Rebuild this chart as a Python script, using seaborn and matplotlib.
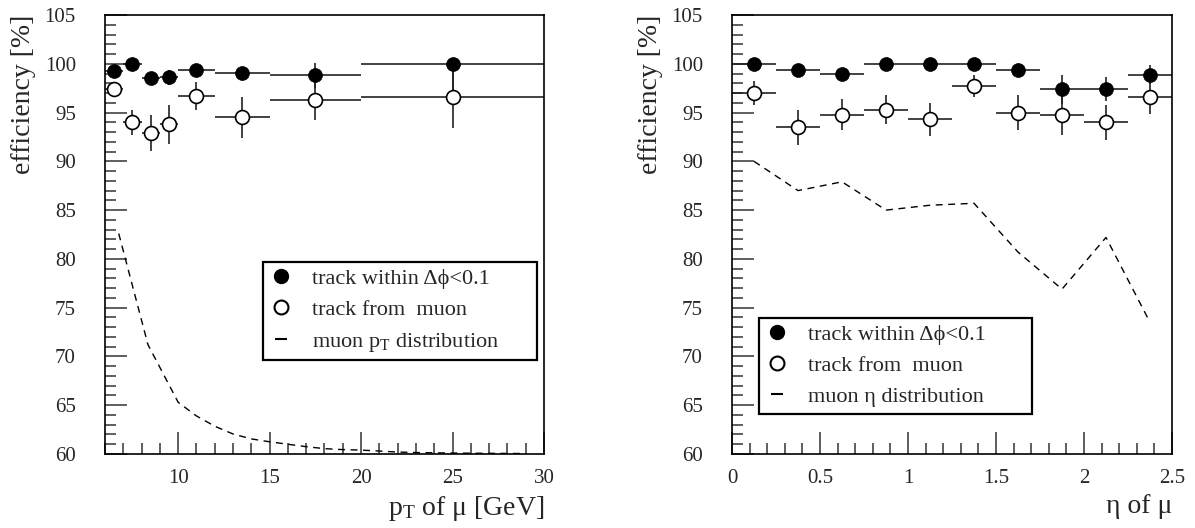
import numpy as np
import matplotlib
matplotlib.use("Agg")
import matplotlib.pyplot as plt
from matplotlib.lines import Line2D
from matplotlib.ticker import MultipleLocator, FixedLocator, FuncFormatter
import seaborn as sns

# ---- efficiency vs muon pT ----
pt_center = [6.5, 7.5, 8.5, 9.5, 11.0, 13.5, 17.5, 25.0]
pt_halfwidth = [0.5, 0.5, 0.5, 0.5, 1.0, 1.5, 2.5, 5.0]
pt_eff_dphi = [99.3, 100.0, 98.5, 98.6, 99.4, 99.1, 98.8, 100.0]
pt_eff_dphi_lo = [0.6, 0.5, 0.6, 0.8, 0.6, 0.6, 1.3, 2.7]
pt_eff_dphi_hi = [0.6, 0.0, 0.6, 0.8, 0.6, 0.6, 1.3, 0.0]
pt_eff_muon = [97.4, 94.0, 92.9, 93.8, 96.7, 94.5, 96.3, 96.6]
pt_eff_muon_err = [0.7, 1.3, 1.8, 2.0, 1.4, 2.1, 2.1, 3.2]

# muon pT distribution (arbitrary scale, drawn in the efficiency frame)
pt_dist_x = [6.75, 8.35, 10.0, 11.0, 12.0, 13.0, 14.0, 15.0, 16.0, 17.0, 18.0,
             19.0, 20.0, 21.0, 22.0, 23.0, 24.0, 25.0, 26.0, 27.0, 28.0, 28.7]
pt_dist_y = [82.6, 71.2, 65.3, 63.9, 62.85, 62.05, 61.55, 61.25, 61.0, 60.75, 60.55,
             60.45, 60.4, 60.3, 60.2, 60.15, 60.12, 60.1, 60.08, 60.07, 60.06, 60.05]

# ---- efficiency vs muon eta ----
eta_center = [0.125, 0.375, 0.625, 0.875, 1.125, 1.375, 1.625, 1.875, 2.125, 2.375]
eta_halfwidth = [0.125] * 10
eta_eff_dphi = [100.0, 99.4, 99.0, 100.0, 100.0, 100.0, 99.4, 97.4, 97.4, 98.9]
eta_eff_dphi_lo = [0.3, 0.4, 0.5, 0.3, 0.3, 0.3, 0.6, 1.5, 1.2, 1.0]
eta_eff_dphi_hi = [0.0, 0.4, 0.5, 0.0, 0.0, 0.0, 0.6, 1.5, 1.2, 1.0]
eta_eff_muon = [97.0, 93.5, 94.8, 95.3, 94.3, 97.7, 95.0, 94.7, 94.0, 96.6]
eta_eff_muon_err = [1.2, 1.8, 1.55, 1.5, 1.7, 1.1, 1.8, 2.0, 1.8, 1.7]

eta_dist_y = [90.0, 87.0, 87.9, 85.0, 85.5, 85.7, 80.7, 76.9, 82.2, 73.5]

legend_dphi = "track within \u0394\u03d5<0.1"
legend_muon = "track from  muon"
legend_pt_dist = r"muon $\mathregular{p_T}$ distribution"
legend_eta_dist = "muon \u03b7 distribution"
xlabel_pt = r"$\mathregular{p_T}$" + " of \u03bc [GeV]"
xlabel_eta = "\u03b7 of \u03bc"

sns.set_style("ticks")
plt.rcParams["font.family"] = ["Liberation Serif", "DejaVu Serif"]
plt.rcParams["mathtext.fontset"] = "custom"
plt.rcParams["mathtext.rm"] = "Liberation Serif"
plt.rcParams["mathtext.it"] = "Liberation Serif"

fig = plt.figure(figsize=(11.95, 5.28), dpi=100)
ax_pt = fig.add_axes([105 / 1195, 1 - 454 / 528, 439 / 1195, 439 / 528])
ax_eta = fig.add_axes([732 / 1195, 1 - 454 / 528, 440 / 1195, 439 / 528])

MS = 10


def draw_panel(ax, x, xw, eff1, e1lo, e1hi, eff2, e2, dx, dy):
    # distribution curve
    sns.lineplot(x=dx, y=dy, ax=ax, color="black", linewidth=1.0,
                 errorbar=None, zorder=1)
    ax.lines[-1].set_dashes([5, 4])
    # error bars
    ax.errorbar(x, eff1, xerr=xw, yerr=[e1lo, e1hi], fmt="none",
                ecolor="#222222", elinewidth=1.2, capsize=0, zorder=2)
    ax.errorbar(x, eff2, xerr=xw, yerr=e2, fmt="none",
                ecolor="#222222", elinewidth=1.2, capsize=0, zorder=2)
    # markers
    sns.scatterplot(x=x, y=eff1, ax=ax, marker="o", s=MS ** 2,
                    color="black", edgecolor="black", linewidth=0.5, zorder=3)
    sns.scatterplot(x=x, y=eff2, ax=ax, marker="o", s=MS ** 2,
                    facecolor="white", edgecolor="black", linewidth=1.2, zorder=4)

    ax.set_ylim(60, 105)
    ax.yaxis.set_major_locator(MultipleLocator(5))
    ax.yaxis.set_minor_locator(MultipleLocator(1))
    ax.tick_params(which="both", direction="in", top=False, right=False,
                   width=1.1, color="#333333", labelsize=15)
    ax.tick_params(axis="y", which="both", pad=21)
    ax.tick_params(axis="x", which="both", pad=11)
    ax.tick_params(which="major", length=16)
    ax.tick_params(which="minor", length=8)
    for sp in ax.spines.values():
        sp.set_linewidth(1.2)
        sp.set_color("black")
        sp.set_visible(True)
    ax.set_ylabel("efficiency [%]", fontsize=20, loc="top", labelpad=6)


draw_panel(ax_pt, pt_center, pt_halfwidth, pt_eff_dphi, pt_eff_dphi_lo,
           pt_eff_dphi_hi, pt_eff_muon, pt_eff_muon_err, pt_dist_x, pt_dist_y)
ax_pt.set_xlim(6, 30)
ax_pt.xaxis.set_major_locator(FixedLocator([10, 15, 20, 25, 30]))
ax_pt.xaxis.set_minor_locator(MultipleLocator(1))
ax_pt.set_xlabel(xlabel_pt, fontsize=20, loc="right", labelpad=4)

draw_panel(ax_eta, eta_center, eta_halfwidth, eta_eff_dphi, eta_eff_dphi_lo,
           eta_eff_dphi_hi, eta_eff_muon, eta_eff_muon_err, eta_center, eta_dist_y)
ax_eta.set_xlim(0, 2.5)
ax_eta.xaxis.set_major_locator(MultipleLocator(0.5))
ax_eta.xaxis.set_minor_locator(MultipleLocator(0.1))
ax_eta.xaxis.set_major_formatter(FuncFormatter(lambda v, p: f"{v:g}"))
ax_eta.set_xlabel(xlabel_eta, fontsize=20, loc="right", labelpad=4)


def make_legend(ax, dist_label, x0, y0, w):
    handles = [
        Line2D([], [], ls="none", marker="o", ms=MS, mfc="black", mec="black"),
        Line2D([], [], ls="none", marker="o", ms=MS, mfc="white", mec="black", mew=1.5),
        Line2D([], [], ls="none", marker="_", ms=8, mec="black", mew=1.5),
    ]
    leg = ax.legend(handles, [legend_dphi, legend_muon, dist_label],
                    loc="upper left", bbox_to_anchor=(x0, y0, w, 0.0),
                    mode="expand", borderaxespad=0, fontsize=16,
                    handlelength=1.0, handletextpad=0.9, borderpad=0.3,
                    labelspacing=0.47, frameon=True, fancybox=False)
    fr = leg.get_frame()
    fr.set_edgecolor("black")
    fr.set_linewidth(1.6)
    fr.set_facecolor("white")
    fr.set_alpha(1)
    return leg


make_legend(ax_pt, legend_pt_dist, (263 - 105) / 439, (454 - 262) / 439, 274 / 439)
make_legend(ax_eta, legend_eta_dist, (759 - 732) / 440, (454 - 318) / 439, 273 / 440)

fig.savefig("out.png", dpi=100)
